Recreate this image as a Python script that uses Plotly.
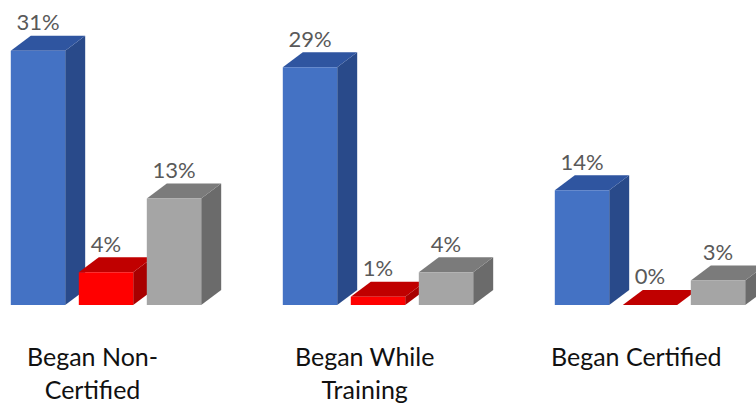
import plotly.graph_objects as go

categories = ["Began Non-<br>Certified", "Began While<br>Training", "Began Certified"]
series_names = ["Series A", "Series B", "Series C"]
values = {
    "Series A": [31, 29, 14],
    "Series B": [4, 1, 0],
    "Series C": [13, 4, 3],
}
front_colors = ["#4472C4", "#FF0000", "#A5A5A5"]
top_colors = ["#2F55A0", "#C00000", "#7B7B7B"]
side_colors = ["#294A8A", "#A80000", "#6B6B6B"]

# geometry (in axis units)
GROUP_PITCH = 4
BAR_W = 0.8
DX = 0.294    # depth offset in x units
DY = 1.83     # depth offset in y units (%)

fig = go.Figure()

def poly(xs, ys, color):
    fig.add_trace(go.Scatter(
        x=xs + [xs[0]], y=ys + [ys[0]], mode="lines", fill="toself",
        fillcolor=color, line=dict(width=0, color=color),
        hoverinfo="skip", showlegend=False))

label_x, label_y, label_t = [], [], []
for g in range(len(categories)):
    for s, name in enumerate(series_names):
        v = values[name][g]
        xc = g * GROUP_PITCH + s
        x0, x1 = xc - BAR_W / 2, xc + BAR_W / 2
        # side face
        poly([x1, x1 + DX, x1 + DX, x1], [0, DY, v + DY, v], side_colors[s])
        # top face
        poly([x0, x1, x1 + DX, x0 + DX], [v, v, v + DY, v + DY], top_colors[s])
        # front face
        if v > 0:
            poly([x0, x1, x1, x0], [0, 0, v, v], front_colors[s])
        label_x.append(xc)
        label_y.append(v + DY)
        label_t.append(f"{v}%")

fig.add_trace(go.Scatter(
    x=label_x, y=label_y, text=label_t, mode="text",
    textposition="top center",
    textfont=dict(family="Lato, Open Sans, sans-serif", size=22, color="#595959"),
    hoverinfo="skip", showlegend=False))

for g, cat in enumerate(categories):
    fig.add_annotation(
        x=g * GROUP_PITCH + 1 - 0.2, y=-4.1, xref="x", yref="y",
        text=cat, showarrow=False, yanchor="top", xanchor="center",
        font=dict(family="Lato, Open Sans, sans-serif", size=25, color="#111111"),
        align="center")

fig.update_layout(
    width=756, height=405,
    margin=dict(l=0, r=0, t=0, b=0),
    paper_bgcolor="white", plot_bgcolor="white",
    xaxis=dict(range=[-0.5588, 10.5588], visible=False, fixedrange=True),
    yaxis=dict(range=[-12.195, 37.195], visible=False, fixedrange=True),
)

fig.write_html("out.html", config={"displayModeBar": False},
               post_script="document.body.style.margin='0';document.body.style.overflow='hidden';")
